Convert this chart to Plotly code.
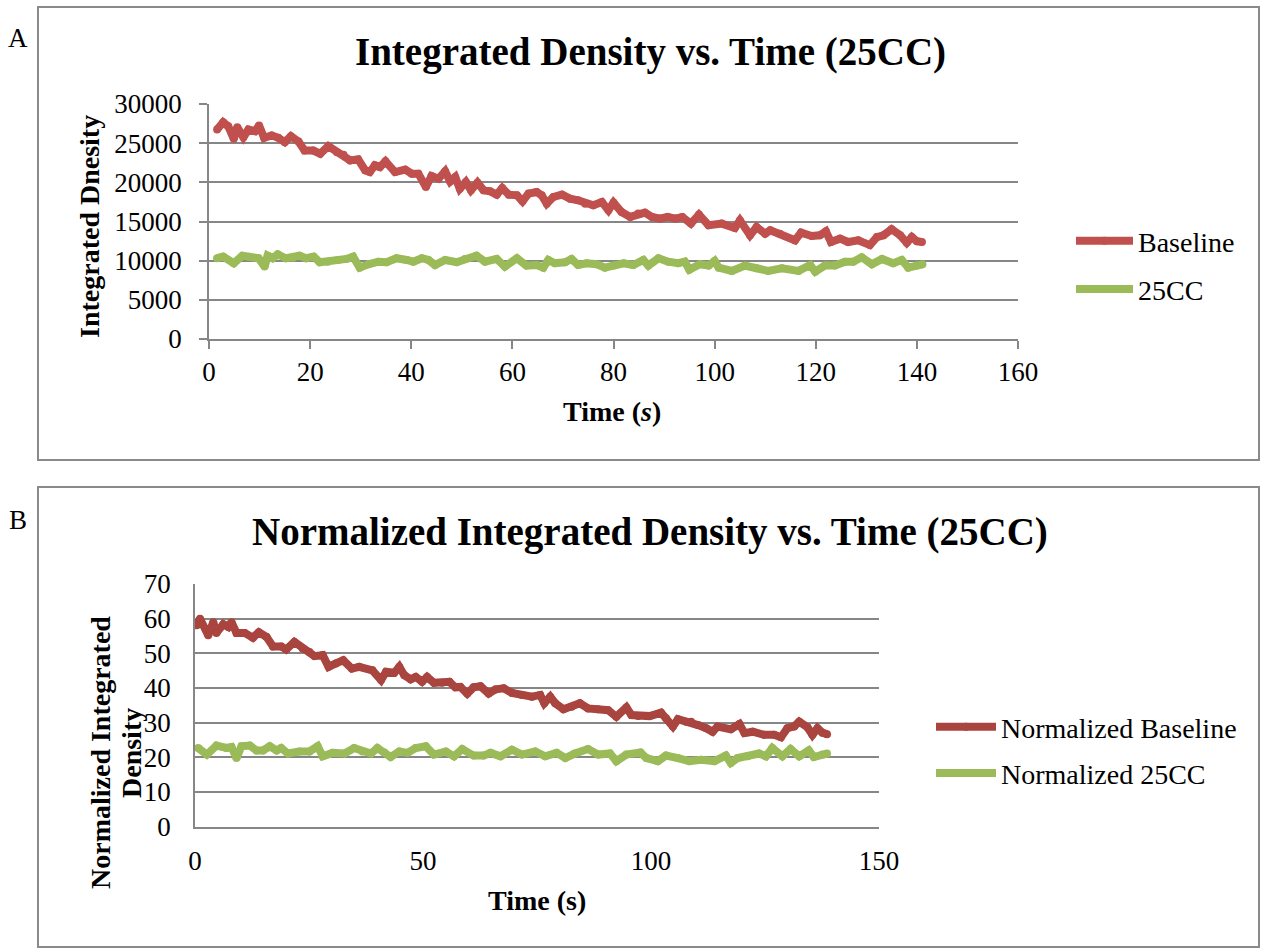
import plotly.graph_objects as go

W, H = 1262, 951
def px(x): return x / W
def py(y): return 1 - y / H

# ---------------- data ----------------
a_base_t = [1.6, 2.8, 3.8, 4.9, 5.6, 6.8, 7.8, 9.1, 9.9, 10.9, 12.4, 13.7, 15.0, 16.2, 17.7, 18.9,
            20.6, 22.0, 23.6, 25.3, 26.6, 27.9, 29.5, 30.9, 31.8, 32.8, 33.8, 34.9, 36.8, 38.8,
            40.1, 41.4, 42.9, 44.0, 45.4, 46.7, 47.7, 48.7, 49.6, 50.8, 51.8, 53.1, 54.3, 55.6,
            56.9, 58.0, 59.3, 60.9, 62.0, 63.2, 64.8, 65.8, 66.8, 68.1, 69.8, 71.4, 73.0, 74.4,
            76.0, 77.7, 79.0, 80.0, 81.6, 83.3, 84.9, 86.2, 87.6, 89.2, 90.7, 92.2, 93.6, 95.3,
            96.9, 98.8, 101.4, 104.0, 105.0, 107.0, 108.3, 110.0, 111.0, 112.9, 115.9, 117.1,
            119.2, 120.8, 122.0, 123.0, 124.8, 126.4, 128.4, 130.7, 132.1, 133.4, 135.0, 136.7,
            138.0, 139.0, 140.0, 141.0]
a_base = [26740, 27670, 27160, 25560, 27030, 25760, 26740, 26530, 27250, 25690, 25980, 25690,
          25130, 25890, 25210, 24060, 24060, 23650, 24620, 23850, 23520, 22800, 22930, 21530,
          21310, 22170, 21950, 22680, 21310, 21620, 21110, 21110, 19410, 20810, 20470, 21400,
          20100, 20670, 19180, 20040, 18980, 19960, 18980, 18850, 18430, 19270, 18430, 18340,
          17580, 18560, 18770, 18340, 17280, 18130, 18430, 17920, 17710, 17280, 17070, 17490,
          16430, 17410, 16210, 15580, 16010, 16130, 15580, 15370, 15580, 15370, 15580, 14730,
          15880, 14520, 14730, 14170, 15150, 13240, 14290, 13450, 13870, 13450, 12600, 13580,
          13150, 13240, 13750, 12380, 12810, 12380, 12600, 11990, 13020, 13240, 14010, 13240,
          12300, 13020, 12470, 12380]

a_cc_t = [1.6, 2.8, 4.9, 6.6, 7.8, 9.8, 11.0, 11.6, 12.6, 13.6, 15.2, 16.6, 17.9, 19.2, 20.7,
          21.9, 23.5, 25.5, 27.2, 28.5, 29.8, 31.5, 33.5, 35.1, 37.1, 39.1, 40.4, 42.1, 43.4,
          44.7, 46.7, 49.0, 50.6, 52.9, 54.6, 56.9, 58.5, 60.9, 62.8, 64.8, 66.1, 67.1, 68.4,
          70.4, 71.7, 73.0, 74.7, 76.7, 78.3, 80.0, 82.0, 83.9, 85.9, 86.9, 88.9, 90.8, 92.8,
          94.1, 95.0, 97.1, 98.8, 100.0, 100.8, 103.4, 106.0, 108.3, 110.6, 113.3, 116.6, 118.9,
          119.9, 121.8, 123.8, 125.8, 127.4, 129.1, 131.1, 133.1, 135.3, 137.0, 138.3, 140.0,
          141.1]
a_cc = [10310, 10510, 9670, 10640, 10510, 10310, 9240, 10640, 10310, 10810, 10310, 10380, 10640,
        10310, 10510, 9800, 9870, 10090, 10220, 10510, 9110, 9540, 9870, 9800, 10310, 10090,
        9870, 10310, 10090, 9450, 10090, 9800, 10220, 10640, 9870, 10220, 9240, 10310, 9370,
        9450, 9110, 10090, 9670, 9800, 10220, 9450, 9670, 9540, 9110, 9370, 9670, 9450, 10090,
        9370, 10310, 9870, 9670, 9870, 8850, 9540, 9370, 9960, 9110, 8690, 9370, 9030, 8690,
        9030, 8690, 9450, 8600, 9370, 9370, 9870, 9870, 10430, 9540, 10220, 9670, 10090, 9110,
        9370, 9540]

b_base_t = [0.4, 1.1, 2.9, 4.0, 4.7, 6.2, 7.3, 8.0, 9.1, 10.9, 12.7, 14.0, 15.7, 17.1, 18.9,
            20.0, 21.8, 23.6, 25.1, 26.2, 28.0, 29.3, 30.9, 32.5, 34.4, 36.0, 38.9, 40.8, 41.9,
            43.7, 44.8, 45.9, 47.3, 48.4, 49.8, 50.9, 52.4, 54.2, 55.8, 57.1, 58.2, 59.7, 61.1,
            62.6, 64.4, 65.9, 67.7, 69.5, 71.7, 73.9, 75.7, 76.6, 77.9, 79.0, 80.8, 82.6, 84.4,
            86.2, 88.4, 90.6, 92.4, 94.6, 95.7, 97.2, 99.7, 102.2, 103.3, 104.8, 105.9, 107.7,
            108.8, 110.3, 112.1, 113.5, 114.6, 117.5, 119.4, 120.5, 122.3, 124.8, 127.0, 128.5,
            129.9, 131.4, 132.5, 134.3, 135.4, 136.5, 137.6, 138.6]
b_base = [58.1, 60.0, 55.2, 59.0, 55.9, 58.4, 57.6, 59.0, 55.9, 55.9, 54.5, 56.1, 54.7, 52.0,
          52.0, 51.1, 53.3, 51.4, 50.4, 49.2, 49.5, 46.1, 47.1, 48.0, 45.6, 46.1, 45.1, 42.3,
          44.7, 44.4, 46.1, 43.7, 42.5, 43.2, 41.8, 43.2, 41.5, 41.5, 41.8, 40.2, 40.3, 38.4,
          40.2, 40.5, 38.4, 39.6, 39.9, 38.6, 38.0, 37.5, 38.0, 35.6, 37.5, 35.6, 33.9, 34.6,
          35.6, 34.1, 33.9, 33.6, 31.7, 34.4, 32.2, 31.9, 31.9, 32.9, 31.3, 28.9, 31.0, 30.3,
          30.3, 29.3, 28.4, 27.4, 28.9, 28.1, 29.6, 27.0, 27.4, 26.5, 26.5, 25.8, 28.4, 28.9,
          30.3, 28.7, 26.5, 28.4, 27.1, 26.7]

b_cc_t = [0.7, 2.6, 4.7, 6.9, 8.0, 9.1, 10.2, 12.0, 13.5, 14.9, 16.4, 17.9, 18.9, 20.4, 22.9,
          25.1, 26.9, 28.0, 30.2, 32.8, 34.9, 36.7, 38.6, 40.0, 41.5, 42.9, 44.8, 46.6, 48.4,
          50.6, 52.4, 55.0, 56.8, 58.6, 61.1, 63.3, 64.8, 67.0, 69.5, 71.7, 74.6, 76.8, 79.3,
          81.2, 83.3, 86.2, 88.4, 91.0, 92.4, 94.6, 97.7, 99.0, 101.5, 103.3, 105.9, 108.4,
          111.0, 113.9, 116.4, 117.5, 119.0, 121.2, 123.7, 125.2, 126.6, 128.8, 130.6, 132.5,
          134.6, 135.7, 137.6, 138.6]
b_cc = [22.7, 20.8, 23.4, 22.7, 23.0, 19.8, 23.2, 23.4, 22.0, 22.0, 23.2, 22.0, 22.7, 21.1, 21.7,
        21.7, 23.2, 20.3, 21.3, 21.1, 22.7, 21.7, 21.1, 22.7, 21.4, 20.1, 21.7, 21.3, 22.7, 23.2,
        20.8, 21.7, 20.3, 22.4, 20.5, 20.5, 21.3, 20.3, 22.2, 20.8, 21.7, 20.3, 21.3, 19.8, 21.1,
        22.4, 20.8, 21.1, 18.9, 20.8, 21.4, 19.8, 18.9, 20.5, 19.8, 18.9, 19.3, 18.9, 20.5, 18.4,
        19.8, 20.3, 21.1, 20.3, 22.7, 20.3, 22.4, 20.3, 22.0, 20.1, 20.8, 21.1]

a_xticks = [0, 20, 40, 60, 80, 100, 120, 140, 160]
a_yticks = [0, 5000, 10000, 15000, 20000, 25000, 30000]
b_xticks = [0, 50, 100, 150]
b_yticks = [0, 10, 20, 30, 40, 50, 60, 70]

# ---------------- style ----------------
FONT = "Liberation Serif"
GRAY = "#868686"
RED_A = "#C0504D"
RED_B = "#A9443F"
GREEN = "#9BBB59"
LW = 8


def series(xs, ys, name, color, xa, ya, leg, grp):
    # round-dot markers of the line width give the rounded joins of the original
    return go.Scatter(x=xs, y=ys, mode="lines+markers", name=name,
                      line=dict(color=color, width=LW),
                      marker=dict(color=color, size=LW, line=dict(width=0)),
                      xaxis=xa, yaxis=ya, legend=leg, legendgroup=grp)


fig = go.Figure()
fig.add_trace(series(a_base_t, a_base, "Baseline", RED_A, "x", "y", "legend", "a1"))
fig.add_trace(series(a_cc_t, a_cc, "25CC", GREEN, "x", "y", "legend", "a2"))
fig.add_trace(series(b_base_t, b_base, "Normalized Baseline", RED_B, "x2", "y2", "legend2", "b1"))
fig.add_trace(series(b_cc_t, b_cc, "Normalized 25CC", GREEN, "x2", "y2", "legend2", "b2"))

tickfont = dict(family=FONT, size=27, color="black")
axis_common = dict(showline=True, linecolor=GRAY, linewidth=1.5, zeroline=False,
                   tickfont=tickfont, tickcolor=GRAY, tickwidth=1.5, fixedrange=True)

fig.update_layout(
    width=W, height=H, autosize=False,
    margin=dict(l=0, r=0, t=0, b=0, autoexpand=False),
    paper_bgcolor="white", plot_bgcolor="white",
    font=dict(family=FONT, color="black"),
    xaxis=dict(domain=[px(209), px(1018)], range=[0, 160], tickvals=a_xticks,
               ticks="outside", ticklen=8, showgrid=False, anchor="y", **axis_common),
    yaxis=dict(domain=[py(339), py(104)], range=[0, 30000], tickvals=a_yticks,
               tickformat="d", ticks="outside", ticklen=8, ticklabelstandoff=12,
               showgrid=True, gridcolor=GRAY, gridwidth=1.5, anchor="x", **axis_common),
    xaxis2=dict(domain=[px(195), px(879)], range=[0, 150], tickvals=b_xticks,
                ticks="", showgrid=False, anchor="y2", ticklabelstandoff=9, **axis_common),
    yaxis2=dict(domain=[py(826.7), py(584)], range=[0, 70], tickvals=b_yticks,
                ticks="", showgrid=True, gridcolor=GRAY, gridwidth=1.5, anchor="x2",
                ticklabelstandoff=17, **axis_common),
    legend=dict(x=px(1071), y=py(216), xanchor="left", yanchor="top",
                font=dict(family=FONT, size=28, color="black"), itemwidth=57,
                tracegroupgap=9, bgcolor="rgba(0,0,0,0)"),
    legend2=dict(x=px(931), y=py(702), xanchor="left", yanchor="top",
                 font=dict(family=FONT, size=28, color="black"), itemwidth=60,
                 tracegroupgap=7, bgcolor="rgba(0,0,0,0)"),
)

# panel borders
for y0, y1 in [(7, 460), (487, 947)]:
    fig.add_shape(type="rect", xref="paper", yref="paper",
                  x0=px(38), x1=px(1259), y0=py(y1), y1=py(y0),
                  line=dict(color="#8a8a8a", width=2), fillcolor="rgba(0,0,0,0)", layer="below")

def ann(text, x, y, size, angle=0):
    fig.add_annotation(text=text, xref="paper", yref="paper", x=px(x), y=py(y),
                       xanchor="center", yanchor="middle", showarrow=False,
                       textangle=angle, font=dict(family=FONT, size=size, color="black"))

ann("A", 18, 38, 27)
ann("B", 18, 520, 27)
ann("<b>Integrated Density vs. Time (25CC)</b>", 650, 52, 39)
ann("<b>Normalized Integrated Density vs. Time (25CC)</b>", 650, 532, 39)
ann("<b>Integrated Dnesity</b>", 90, 227, 28, -90)
ann("<b>Time (<i>s</i>)</b>", 612, 411, 28)
ann("<b>Normalized Integrated</b>", 100, 753, 28, -90)
ann("<b>Density</b>", 131, 753, 28, -90)
ann("<b>Time (s)</b>", 537, 900, 28)

fig.write_html("out.html")
